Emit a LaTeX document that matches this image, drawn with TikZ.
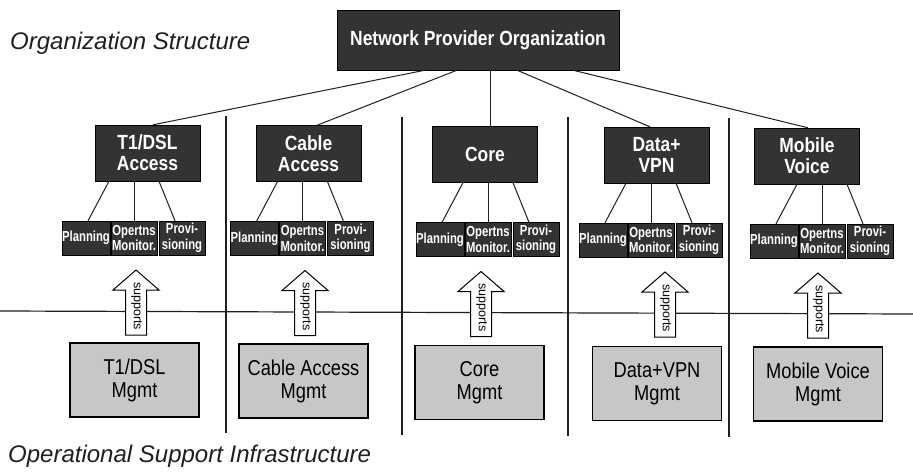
\documentclass[tikz,border=0pt]{standalone}
\usepackage{fontspec}
\setmainfont{Liberation Sans}
\newfontfamily\boxfont[FakeStretch=0.85]{Liberation Sans}
\newfontfamily\subfont[FakeStretch=0.78]{Liberation Sans}
\usetikzlibrary{calc}
\definecolor{darkbox}{gray}{0.2}
\definecolor{lightbox}{gray}{0.78}
\definecolor{inkcol}{gray}{0.12}
\begin{document}
\begin{tikzpicture}[x=1pt,y=-1pt,
  orgbox/.style={draw=black, fill=darkbox, text=white, align=center, inner sep=0pt,
    font=\boxfont\bfseries\fontsize{20.5}{21}\selectfont},
  unitbox/.style={orgbox, minimum width=105, minimum height=56},
  subbox/.style={draw=black, fill=darkbox, text=white, align=center, inner sep=0pt,
    minimum width=46, minimum height=34, font=\subfont\bfseries\fontsize{14.5}{15.5}\selectfont},
  mgmtbox/.style={draw=black, line width=1.2pt, fill=lightbox, text=black, align=center, inner sep=0pt,
    minimum width=129, minimum height=74, font=\boxfont\fontsize{21.5}{23}\selectfont},
  conn/.style={draw=inkcol, line width=1pt},
  sepline/.style={draw=inkcol, line width=1.2pt},
  arrowshape/.style={draw=black, line width=1pt, fill=white, line join=miter},
  suptext/.style={inner sep=0pt, font=\fontsize{12.5}{12.5}\selectfont, text=black},
  sectlabel/.style={anchor=base west, inner sep=0pt, text=inkcol, font=\itshape\fontsize{24}{28}\selectfont}
]
\useasboundingbox (0,0) rectangle (913,476);
\fill[white] (0,0) rectangle (913,476);

% section labels
\node[sectlabel] (orglab) at (10,50) {Organization Structure};
\node[sectlabel] (opslab) at (8,462) {Operational Support Infrastructure};

% dividing lines
\draw[sepline] (0,311) -- (913,314);
\draw[sepline] (226,116) -- (226,433);
\draw[sepline] (402,117) -- (402,435);
\draw[sepline] (568,117) -- (568,436);
\draw[sepline] (729,118) -- (729,437);

% top node
\node[orgbox, minimum width=282, minimum height=60] (top) at (478,40) {Network Provider Organization};

\foreach \i/\ux/\uy/\ul/\ox/\sy/\ax/\bx/\by/\bl/\ts/\te in {
  1/147.5/153/{T1/DSL\\Access}/134/238/136/134.5/380/{T1/DSL\\Mgmt}/-53/5.5,
  2/308.5/153.5/{Cable\\Access}/302.5/238.5/305/303.5/381/{Cable Access\\Mgmt}/-21/8.5,
  3/485/154.5/{Core}/488/239.5/481/479.5/382.5/{Core\\Mgmt}/12/5,
  4/656.5/155/{Data+\\VPN}/651/240/665/657/383.5/{Data+VPN\\Mgmt}/39/-6.5,
  5/807/156/{Mobile\\Voice}/822/241/818/818/384/{Mobile Voice\\Mgmt}/95/1}
{
  \node[unitbox] (u\i) at (\ux,\uy) {\ul};
  \node[subbox] (op\i) at (\ox,\sy) {Opertns\\Monitor.};
  \node[subbox] (pl\i) at (\ox-48,\sy) {Planning};
  \node[subbox] (pr\i) at (\ox+48,\sy) {Provi-\\sioning};
  \node[mgmtbox] (m\i) at (\bx,\by) {\bl};
  % connectors
  \draw[conn] ([xshift=\ts]top.south) -- ([xshift=\te]u\i.north);
  \draw[conn] ($(op\i.north |- u\i.south)+(-25,0)$) -- ([xshift=2]pl\i.north);
  \draw[conn] (op\i.north |- u\i.south) -- (op\i.north);
  \draw[conn] ($(op\i.north |- u\i.south)+(25,0)$) -- ([xshift=-7]pr\i.north);
  % supports arrow
  \draw[arrowshape] (\ax-10.5,\sy+97) -- (\ax-10.5,\sy+52) -- (\ax-23,\sy+52) -- (\ax,\sy+32)
     -- (\ax+23,\sy+52) -- (\ax+10.5,\sy+52) -- (\ax+10.5,\sy+97) -- cycle;
  \node[suptext, rotate=-90] (s\i) at (\ax+0.5,\sy+68) {supports};
}
\end{tikzpicture}
\end{document}
